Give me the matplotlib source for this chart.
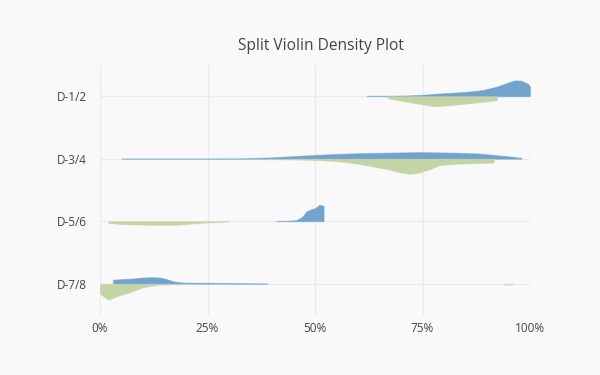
import matplotlib.pyplot as plt
import numpy as np

plt.rcParams['font.family'] = ['Open Sans', 'DejaVu Sans']

categories = ["D-1/2", "D-3/4", "D-5/6", "D-7/8"]

# blue (upper) halves: x in fraction of 1, half-width in category units
blue_x = [
    [0.62, 0.67, 0.72, 0.75, 0.80, 0.85, 0.89, 0.92, 0.945, 0.965, 0.98, 0.995, 1.0],
    [0.05, 0.20, 0.33, 0.39, 0.43, 0.48, 0.54, 0.60, 0.68, 0.75, 0.83, 0.88, 0.91, 0.95, 0.98],
    [0.41, 0.44, 0.457, 0.47, 0.48, 0.49, 0.50, 0.51, 0.52, 0.52],
    [0.03, 0.03, 0.05, 0.07, 0.10, 0.12, 0.14, 0.155, 0.17, 0.19, 0.21, 0.25, 0.30, 0.35, 0.39],
]
blue_h = [
    [0.008, 0.008, 0.015, 0.025, 0.05, 0.07, 0.10, 0.15, 0.21, 0.255, 0.25, 0.20, 0.16],
    [0.004, 0.004, 0.006, 0.02, 0.035, 0.055, 0.075, 0.09, 0.10, 0.107, 0.097, 0.085, 0.065, 0.04, 0.015],
    [0.006, 0.01, 0.02, 0.07, 0.16, 0.19, 0.21, 0.265, 0.25, 0.0],
    [0.0, 0.065, 0.075, 0.082, 0.1, 0.107, 0.1, 0.075, 0.04, 0.022, 0.018, 0.016, 0.012, 0.008, 0.004],
]

# green (lower) halves
green_x = [
    [0.67, 0.70, 0.74, 0.78, 0.82, 0.853, 0.89, 0.923, 0.923],
    [0.39, 0.46, 0.52, 0.56, 0.60, 0.64, 0.674, 0.70, 0.72, 0.74, 0.77, 0.79, 0.83, 0.88, 0.915, 0.917],
    [0.019, 0.05, 0.093, 0.13, 0.17, 0.20, 0.233, 0.27, 0.30],
    [0.0, 0.0, 0.019, 0.039, 0.07, 0.10, 0.13, 0.17, 0.21, 0.94, 0.95, 0.96],
]
green_h = [
    [0.035, 0.07, 0.12, 0.16, 0.14, 0.115, 0.09, 0.065, 0.0],
    [0.004, 0.012, 0.027, 0.045, 0.08, 0.13, 0.175, 0.22, 0.24, 0.225, 0.16, 0.10, 0.08, 0.068, 0.062, 0.0],
    [0.027, 0.045, 0.053, 0.058, 0.059, 0.045, 0.027, 0.012, 0.003],
    [0.0, 0.16, 0.255, 0.2, 0.133, 0.055, 0.02, 0.008, 0.0, 0.012, 0.015, 0.01],
]

blue = "#72a3cd"
green = "#c5d4a6"

fig = plt.figure(figsize=(6, 3.75), dpi=100, facecolor="#f9f9f9")
ax = fig.add_axes([100 / 600, 60 / 375, 430 / 600, 250 / 375])
ax.set_facecolor("#f9f9f9")

n = len(categories)
for i, cat in enumerate(categories):
    pos = n - 1 - i
    bx = np.array(blue_x[i])
    bh = np.array(blue_h[i])
    ax.fill_between(bx, pos, pos + bh, facecolor=blue, edgecolor=(0.45, 0.64, 0.8, 0.45),
                    lw=0.7, zorder=3)
    gx = np.array(green_x[i])
    gh = np.array(green_h[i])
    if i == 3:
        # main lobe and faint tail
        ax.fill_between(gx[:9], pos, pos - gh[:9], facecolor=green,
                        edgecolor=(0.77, 0.83, 0.65, 0.5), lw=0.7, zorder=3)
        ax.fill_between(gx[9:], pos, pos - gh[9:], color=green, alpha=0.5, lw=0.5, zorder=3)
    else:
        ax.fill_between(gx, pos, pos - gh, facecolor=green,
                        edgecolor=(0.77, 0.83, 0.65, 0.5), lw=0.7, zorder=3)

ax.set_xlim(0, 1)
ax.set_ylim(-0.5, 3.5)
ax.set_xticks([0, 0.25, 0.5, 0.75, 1.0])
ax.set_xticklabels(["0%", "25%", "50%", "75%", "100%"])
ax.set_yticks(range(n))
ax.set_yticklabels(categories[::-1])
ax.grid(True, color="#ebebeb", lw=0.9, zorder=0)
ax.tick_params(length=0, labelsize=8.5, colors="#444444")
ax.tick_params(axis="x", pad=5)
ax.tick_params(axis="y", pad=9.5)
for s in ax.spines.values():
    s.set_visible(False)

fig.text(321 / 600, 1 - 46 / 375, "Split Violin Density Plot", ha="center", va="center",
         fontsize=11.2, color="#444444")

fig.savefig("out.png", dpi=100, facecolor="#f9f9f9")
